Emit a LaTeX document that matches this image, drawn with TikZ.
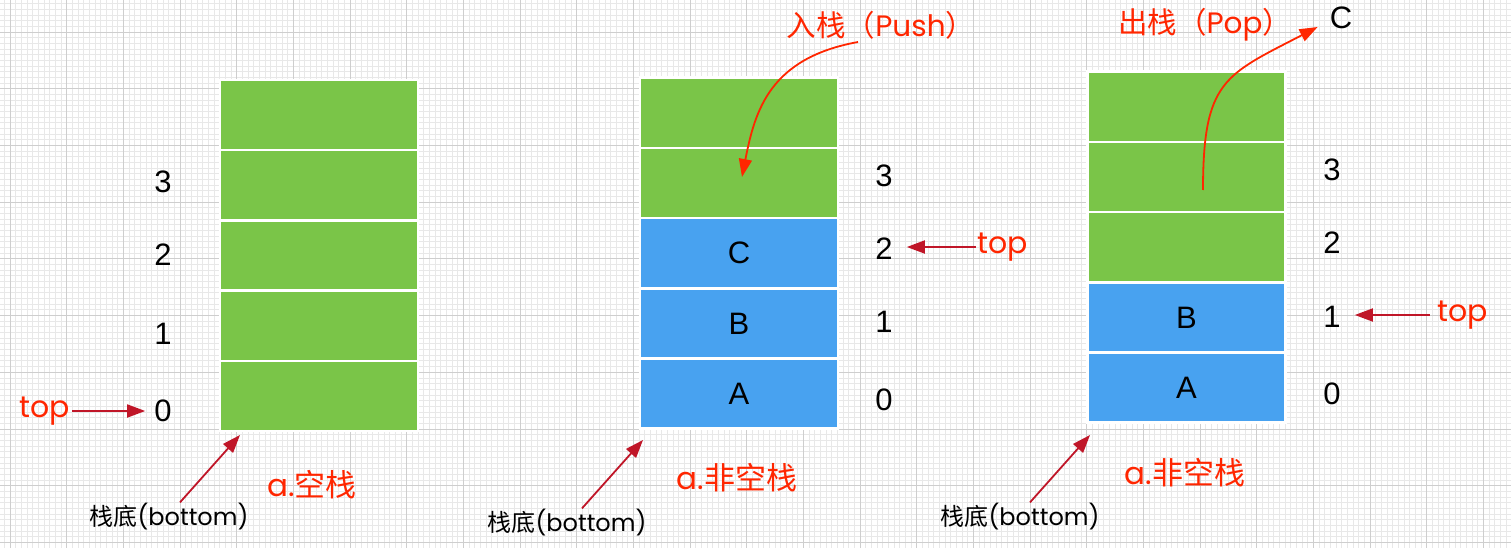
\documentclass[tikz,border=0pt]{standalone}
\usepackage{fontspec}
\setmainfont{Liberation Sans}
\newfontfamily\cjk{Noto Sans CJK SC}
\newfontfamily\geo{Poppins}
\usetikzlibrary{arrows.meta,calc}
\definecolor{cgreen}{RGB}{122,197,72}
\definecolor{cblue}{RGB}{72,162,240}
\definecolor{cred}{RGB}{255,38,0}
\definecolor{darkred}{RGB}{192,22,40}
\definecolor{gminor}{RGB}{232,232,232}
\definecolor{gmajor}{RGB}{206,206,206}
\begin{document}
\begin{tikzpicture}[x=1pt,y=-1pt,
 cellbox/.style={draw=white,line width=2.5pt,minimum width=198pt,minimum height=70.2pt,inner sep=0pt,font=\fontsize{31}{31}\selectfont},
 gcell/.style={cellbox,fill=cgreen},
 bcell/.style={cellbox,fill=cblue},
 idx/.style={inner sep=0pt,font=\fontsize{31}{31}\selectfont},
 toplbl/.style={inner sep=0pt,text=cred,font=\geo\fontsize{30}{30}\selectfont},
 botlbl/.style={inner sep=0pt,font=\fontsize{24}{24}\selectfont},
 caplbl/.style={inner sep=0pt,text=cred,font=\fontsize{31}{31}\selectfont},
 oplbl/.style={inner sep=0pt,text=cred,font=\fontsize{29.5}{29.5}\selectfont},
 ptr/.style={draw=darkred,line width=1.8pt,-{Triangle[length=18pt,width=13pt]}},
 oparr/.style={draw=cred,line width=1.8pt,-{Triangle[length=18pt,width=13pt]}},
 minorline/.style={draw=gminor,line width=1pt},
 majorline/.style={draw=gmajor,line width=1pt}
]
\useasboundingbox (0,0) rectangle (1511,548);
\clip (0,0) rectangle (1511,548);
\fill[white] (0,0) rectangle (1511,548);
% grid
\foreach \i in {-2,...,267} \draw[minorline] ({10+\i*5.66667},0) -- ({10+\i*5.66667},548);
\foreach \j in {-6,...,92} \draw[minorline] (0,{32.33+\j*5.66667}) -- (1511,{32.33+\j*5.66667});
\foreach \i in {0,...,26} \draw[majorline] ({10+\i*56.6667},0) -- ({10+\i*56.6667},548);
\foreach \j in {-1,...,9} \draw[majorline] (0,{32.33+\j*56.6667}) -- (1511,{32.33+\j*56.6667});

% stack 1
\node[gcell] (s1c4) at (319,115.1) {};
\node[gcell] (s1c3) at (319,185.3) {};
\node[gcell] (s1c2) at (319,255.5) {};
\node[gcell] (s1c1) at (319,325.7) {};
\node[gcell] (s1c0) at (319,395.9) {};
\node[idx] (n13) at (163,182) {3};
\node[idx] (n12) at (163,255) {2};
\node[idx] (n11) at (163,334) {1};
\node[idx] (n10) at (163,411) {0};
\node[toplbl] (top1) at (45,411) {top};
\draw[ptr,shorten <=2pt,shorten >=9pt] (top1) -- (n10);
\node[botlbl] (b1) at (169,517) {{\cjk 栈底}{\geo (bottom)}};
\coordinate (b1t) at (240,435);
\draw[ptr] ($(b1.north)+(11,-1)$) -- (b1t);
\node[caplbl] (cap1) at (312,485) {{\geo a.}{\cjk 空栈}};

% stack 2
\node[gcell] (s2c4) at (739,112.8) {};
\node[gcell] (s2c3) at (739,183) {};
\node[bcell] (s2c2) at (739,253.2) {C};
\node[bcell] (s2c1) at (739,323.4) {B};
\node[bcell] (s2c0) at (739,393.6) {A};
\node[idx] (n23) at (884,176) {3};
\node[idx] (n22) at (884,249) {2};
\node[idx] (n21) at (884,322) {1};
\node[idx] (n20) at (884,400) {0};
\node[toplbl] (top2) at (1003,247) {top};
\draw[ptr,shorten <=2pt,shorten >=14pt] (top2.west) -- (top2.west -| n22.east);
\node[botlbl] (b2) at (567,523) {{\cjk 栈底}{\geo (bottom)}};
\coordinate (b2t) at (643,440);
\draw[ptr] ($(b2.north)+(15,-1)$) -- (b2t);
\node[caplbl] (cap2) at (737,478) {{\geo a.}{\cjk 非空栈}};
\node[oplbl] (push) at (881,25) {{\cjk 入栈（}{\geo Push}{\cjk ）}};
\coordinate (pushend) at (742,177);
\draw[oparr] ($(push.center)+(-23,17)$) .. controls (770,58) and (755,110) .. (pushend);

% stack 3
\node[gcell] (s3c4) at (1186.5,106.8) {};
\node[gcell] (s3c3) at (1186.5,177) {};
\node[gcell] (s3c2) at (1186.5,247.2) {};
\node[bcell] (s3c1) at (1186.5,317.4) {B};
\node[bcell] (s3c0) at (1186.5,387.6) {A};
\node[idx] (n33) at (1332,170) {3};
\node[idx] (n32) at (1332,243) {2};
\node[idx] (n31) at (1332,317) {1};
\node[idx] (n30) at (1332,394) {0};
\node[toplbl] (top3) at (1463,315) {top};
\draw[ptr,shorten <=8pt,shorten >=14pt] (top3.west) -- (top3.west -| n31.east);
\node[botlbl] (b3) at (1020,517) {{\cjk 栈底}{\geo (bottom)}};
\coordinate (b3t) at (1090,435);
\draw[ptr] ($(b3.north)+(10,-1)$) -- (b3t);
\node[caplbl] (cap3) at (1185,473) {{\geo a.}{\cjk 非空栈}};
\node[oplbl] (pop) at (1205,25) {{\cjk 出栈（}{\geo Pop}{\cjk ）}};
\node[idx] (cpop) at (1341,18) {C};
\draw[oparr] ($(s3c3.center)+(16.5,13)$) .. controls (1203,80) and (1225,75) .. ($(cpop.west)+(-12,9)$);
\end{tikzpicture}
\end{document}
